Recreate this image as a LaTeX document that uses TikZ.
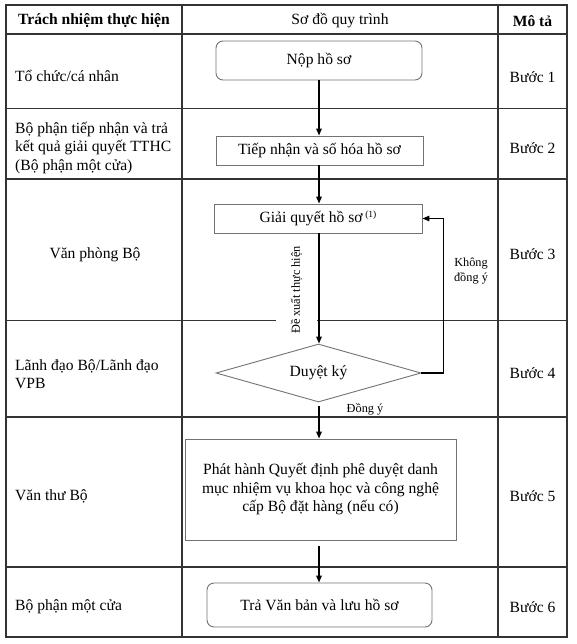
\documentclass[tikz,border=0pt]{standalone}
\usepackage{fontspec}
\setmainfont{Liberation Serif}
\usetikzlibrary{arrows.meta,shapes.geometric}
\begin{document}
\begin{tikzpicture}[x=1pt,y=-1pt,
  grid/.style={draw=black!80,line width=1.2pt},
  box/.style={draw=black!55,line width=0.9pt,fill=white,inner sep=2pt},
  arr/.style={-{Triangle[length=7pt,width=5.5pt]},line width=1.4pt,black},
  txt/.style={font=\fontsize{15.6}{18.5}\selectfont,inner sep=0pt},
  hdr/.style={font=\fontsize{15.6}{18.5}\selectfont\bfseries,inner sep=0pt},
  small/.style={font=\fontsize{12.3}{15}\selectfont,inner sep=0pt}]
\useasboundingbox (0,0) rectangle (576,644);
\fill[white] (0,0) rectangle (576,644);
% table
\draw[grid] (6,5) rectangle (567,637);
\foreach \yy in {34,108.5,179,320.5,417,567}{\draw[grid] (6,\yy) -- (567,\yy);}
\draw[grid] (182,5) -- (182,637);
\draw[grid] (498,5) -- (498,637);
% headers
\node[hdr] (h1) at (94,21) {Trách nhiệm thực hiện};
\node[txt] (h2) at (340,21) {Sơ đồ quy trình};
\node[hdr] (h3) at (532.5,21) {Mô tả};
% left column
\node[txt,anchor=west] (r1) at (15,76) {Tổ chức/cá nhân};
\node[txt,anchor=west,align=left] (r2) at (15,148) {Bộ phận tiếp nhận và trả\\kết quả giải quyết TTHC\\(Bộ phận một cửa)};
\node[txt] (r3) at (95,255) {Văn phòng Bộ};
\node[txt,anchor=west,align=left] (r4) at (15,374) {Lãnh đạo Bộ/Lãnh đạo\\VPB};
\node[txt,anchor=west] (r5) at (15,496) {Văn thư Bộ};
\node[txt,anchor=west] (r6) at (15,607) {Bộ phận một cửa};
% right column
\node[txt] (b1) at (532.5,77) {Bước 1};
\node[txt] (b2) at (532.5,148) {Bước 2};
\node[txt] (b3) at (532.5,254) {Bước 3};
\node[txt] (b4) at (532.5,373) {Bước 4};
\node[txt] (b5) at (532.5,496) {Bước 5};
\node[txt] (b6) at (532.5,607) {Bước 6};
% flow nodes
\node[box,rounded corners=7pt,minimum width=206pt,minimum height=39pt,txt] (n1) at (319,60.5) {Nộp hồ sơ};
\node[box,minimum width=207pt,minimum height=29pt,txt] (n2) at (319.5,150.5) {Tiếp nhận và số hóa hồ sơ};
\node[box,minimum width=208pt,minimum height=29pt,txt] (n3) at (318,218.5) {Giải quyết hồ sơ\,\raisebox{4.5pt}{\fontsize{9.5}{10}\selectfont (1)}};
\node[box,diamond,aspect=3.53,minimum width=205pt,minimum height=58pt,inner sep=0pt,txt] (n4) at (318.5,373) {Duyệt ký};
\node[box,minimum width=271pt,minimum height=101pt,txt,align=center] (n5) at (320.5,489.5) {Phát hành Quyết định phê duyệt danh\\mục nhiệm vụ khoa học và công nghệ\\cấp Bộ đặt hàng (nếu có)};
\node[box,rounded corners=7pt,minimum width=225pt,minimum height=44pt,txt] (n6) at (319.5,605) {Trả Văn bản và lưu hồ sơ};
% connectors
\draw[arr] (n1.south) -- (n1.south |- n2.north);
\draw[arr] (n2.south -| n1.south) -- (n1.south |- n3.north);
\draw[arr] (n3.south -| n1.south) -- (n1.south |- n4.north);
\draw[arr,shorten <=4pt] (n4.south -| n1.south) -- (n1.south |- n5.north);
\draw[arr,shorten <=6pt] (n5.south -| n1.south) -- (n1.south |- n6.north);
\draw[arr] (n4.east) -- ++(22,0) coordinate (lp) |- (n3.east);
% labels
\node[small,fill=white,rotate=90,minimum height=41pt,inner xsep=2pt] (l1) at (296.5,290) {Đề xuất thực hiện};
\node[small,align=center] (l2) at (471,271.5) {Không\\đồng ý};
\node[small] (l3) at (365,409.5) {Đồng ý};
\end{tikzpicture}
\end{document}
